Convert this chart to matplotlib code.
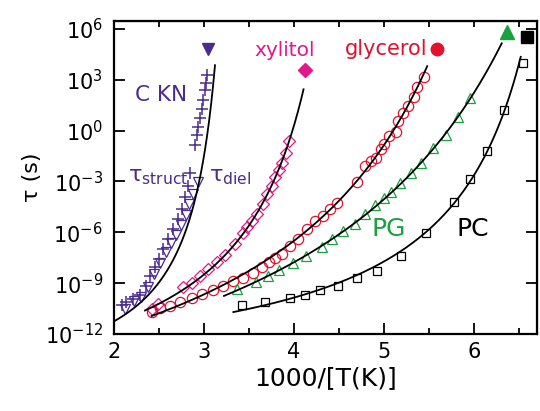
import numpy as np
import matplotlib
matplotlib.use("Agg")
import matplotlib.pyplot as plt
from matplotlib.ticker import FixedLocator, NullLocator, FuncFormatter

plt.rcParams['font.family'] = ['DejaVu Sans']
plt.rcParams['mathtext.default'] = 'regular'

# ---------------- data (x = 1000/T, y = log10 tau) ----------------
ckn_struct_x = [3.03, 3.022, 3.011, 2.994, 2.978, 2.956, 2.937, 2.919, 2.9, 2.844, 2.817, 2.789,
                2.756, 2.711, 2.656, 2.6, 2.55, 2.5, 2.456, 2.4, 2.356, 2.289, 2.211, 2.133, 2.089]
ckn_struct_y = [3.29, 2.82, 2.41, 1.82, 1.29, 0.76, 0.24, -0.24, -0.82, -2.47, -3.24, -3.94,
                -4.65, -5.24, -5.82, -6.41, -7.0, -7.59, -8.06, -8.59, -9.18, -9.71, -9.94, -10.12, -10.29]
ckn_diel_x = [2.933, 2.878, 2.833, 2.8, 2.744, 2.689, 2.633, 2.578, 2.511, 2.444, 2.378, 2.3, 2.222, 2.122]
ckn_diel_y = [-3.06, -3.76, -4.35, -5.0, -5.59, -6.18, -6.65, -7.18, -7.82, -8.47, -9.24, -9.82, -10.06, -10.53]

xyl_x = [2.419, 2.489, 2.767, 2.867, 2.956, 3.044, 3.141, 3.233, 3.344, 3.433, 3.478, 3.533,
         3.589, 3.656, 3.7, 3.75, 3.789, 3.828, 3.872, 3.911, 3.948]
xyl_y = [-10.53, -10.24, -9.24, -8.97, -8.59, -8.18, -7.76, -7.35, -6.71, -6.06, -5.71, -5.35,
         -4.94, -4.35, -3.76, -3.29, -2.76, -2.35, -1.88, -1.29, -0.63]

gly_x = [2.422, 2.511, 2.622, 2.733, 2.863, 2.983, 3.103, 3.214, 3.326, 3.437, 3.548, 3.644,
         3.722, 3.789, 3.863, 3.956, 4.044, 4.141, 4.233, 4.319, 4.4, 4.474, 4.697, 4.789,
         4.856, 4.911, 4.967, 5.0, 5.056, 5.13, 5.156, 5.211, 5.267, 5.328, 5.37, 5.441]
gly_y = [-10.71, -10.44, -10.35, -10.12, -9.88, -9.65, -9.41, -9.15, -8.88, -8.68, -8.38, -8.06,
         -7.76, -7.5, -7.29, -6.82, -6.41, -5.82, -5.35, -5.04, -4.65, -4.25, -3.03, -2.1,
         -1.81, -1.61, -1.06, -0.76, -0.32, -0.06, 0.59, 1.03, 1.44, 2.0, 2.57, 3.15]

pg_x = [3.372, 3.578, 3.706, 3.833, 3.992, 4.137, 4.308, 4.419, 4.539, 4.683, 4.789, 4.9,
        5.0, 5.078, 5.178, 5.298, 5.406, 5.544, 5.689, 5.822, 5.956]
pg_y = [-9.35, -8.91, -8.55, -8.22, -7.82, -7.39, -6.85, -6.38, -5.94, -5.5, -4.94, -4.41,
        -4.0, -3.65, -3.08, -2.47, -1.88, -1.0, -0.24, 0.79, 1.94]

pc_x = [3.419, 3.678, 3.956, 4.122, 4.292, 4.487, 4.698, 4.92, 5.189, 5.467, 5.781, 5.956,
        6.144, 6.337, 6.541]
pc_y = [-10.29, -10.09, -9.86, -9.71, -9.43, -9.16, -8.72, -8.28, -7.39, -6.02, -4.24, -2.88,
        -1.18, 1.24, 3.98]

# points
ckn_line_x = [1.992, 2.178, 2.363, 2.548, 2.697, 2.808, 2.9, 2.956, 3.011, 3.067, 3.122]
ckn_line_y = [-11.22, -10.53, -9.75, -8.76, -7.39, -5.82, -4.06, -2.69, -0.92, 1.04, 3.76]
xyl_line_x = [2.344, 3.992, 4.086, 4.106]
xyl_line_y = [-10.82, 0.5, 1.9, 2.5]
gly_line_x = [2.419, 3.3, 4.474, 4.808, 5.141, 5.4, 5.49]
gly_line_y = [-11.1, -8.95, -4.06, -1.9, 0.45, 2.61, 4.1]
pg_line_x = [3.222, 3.659, 4.03, 4.4, 4.77, 5.178, 5.548, 5.919, 6.141, 6.308]
pg_line_y = [-9.75, -8.66, -7.78, -6.61, -5.24, -3.08, -1.12, 1.43, 3.39, 5.25]
pc_line_x = [3.326, 3.956, 4.511, 4.844, 5.214, 5.474, 5.789, 5.956, 6.141, 6.337, 6.437, 6.519]
pc_line_y = [-10.53, -9.71, -8.96, -8.37, -7.19, -6.02, -4.16, -2.88, -1.12, 1.24, 3.0, 4.86]

# filled key symbols near labels
key_x = {'CKN': 3.041, 'xylitol': 4.117, 'glycerol': 5.592, 'PG': 6.37, 'PC': 6.584}
key_y = {'CKN': 4.81, 'xylitol': 3.59, 'glycerol': 4.82, 'PG': 5.84, 'PC': 5.55}

# x-extent of each fit curve
line_range = {'CKN': (1.992, 3.122), 'xylitol': (2.344, 4.106), 'glycerol': (2.419, 5.48),
              'PG': (3.222, 6.308), 'PC': (3.326, 6.519)}

ytick_exp = [-12, -9, -6, -3, 0, 3, 6]
xticks = [2, 3, 4, 5, 6]

colors = {'CKN': '#4a2b8e', 'xylitol': '#e4168c', 'glycerol': '#e2112f', 'PG': '#1aa13f', 'PC': 'black'}


def vft_fit(x, ly, xmax):
    T = 1000.0 / np.asarray(x, float)
    ly = np.asarray(ly, float)
    tmax = min(T.min(), 1000.0 / xmax) - 1.0
    best = None
    for T0 in np.linspace(0, tmax, 3000):
        M = np.column_stack([np.ones_like(T), 1.0 / (T - T0)])
        coef = np.linalg.lstsq(M, ly, rcond=None)[0]
        r = np.sum((M @ coef - ly) ** 2)
        if best is None or r < best[0]:
            best = (r, coef[0], coef[1], T0)
    return best[1:]


def curve(name, x, ly):
    x0, x1 = line_range[name]
    A, B, T0 = vft_fit(x, ly, x1)
    xs = np.linspace(x0, x1, 400)
    return xs, 10.0 ** (A + B / (1000.0 / xs - T0))


fig = plt.figure(figsize=(5.40, 4.11), dpi=100)
ax = fig.add_axes([114 / 540, 1 - 334 / 411, 423 / 540, 313 / 411])
ax.set_yscale('log')

p10 = lambda v: 10.0 ** np.asarray(v)
ms = 7.4
mew = 0.9
# data markers
ax.plot(ckn_struct_x, p10(ckn_struct_y), ls='none', marker='+', ms=9, mew=1.1, color=colors['CKN'])
ax.plot(ckn_diel_x, p10(ckn_diel_y), ls='none', marker='v', ms=ms, mew=mew, mfc='none', color=colors['CKN'])
ax.plot(xyl_x, p10(xyl_y), ls='none', marker='D', ms=6.4, mew=mew, mfc='none', color=colors['xylitol'])
ax.plot(gly_x, p10(gly_y), ls='none', marker='o', ms=ms, mew=mew, mfc='none', color=colors['glycerol'])
ax.plot(pg_x, p10(pg_y), ls='none', marker='^', ms=ms, mew=mew, mfc='none', color=colors['PG'])
ax.plot(pc_x, p10(pc_y), ls='none', marker='s', ms=6, mew=mew, mfc='none', color=colors['PC'])

# fit curves
fits = {'CKN': (ckn_line_x, ckn_line_y),
        'xylitol': (xyl_x + xyl_line_x, xyl_y + xyl_line_y),
        'glycerol': (gly_x + gly_line_x, gly_y + gly_line_y),
        'PG': (pg_x + pg_line_x, pg_y + pg_line_y),
        'PC': (pc_x + pc_line_x, pc_y + pc_line_y)}
for name, (x, ly) in fits.items():
    xs, ys = curve(name, x, ly)
    ax.plot(xs, ys, color='black', lw=1.3, zorder=3)

# filled key markers
key_marker = {'CKN': ('v', 9), 'xylitol': ('D', 7.5), 'glycerol': ('o', 9), 'PG': ('^', 10), 'PC': ('s', 8)}
for name, (m, s) in key_marker.items():
    ax.plot([key_x[name]], [10.0 ** key_y[name]], marker=m, ms=s, color=colors[name], ls='none')

# labels
ax.text(2.522, 10 ** 2.12, 'C KN', color=colors['CKN'], fontsize=15.5, ha='center', va='center')
ax.text(2.15, 10 ** -3.0, 'τ$_{struct}$', color=colors['CKN'], fontsize=16, ha='left', va='baseline')
ax.text(3.06, 10 ** -3.0, 'τ$_{diel}$', color=colors['CKN'], fontsize=16, ha='left', va='baseline')
ax.text(3.9, 10 ** 4.41, 'xylitol', color=colors['xylitol'], fontsize=14.5, ha='center', va='baseline')
ax.text(5.028, 10 ** 4.47, 'glycerol', color=colors['glycerol'], fontsize=15, ha='center', va='baseline')
ax.text(5.055, 10 ** -6.24, 'PG', color=colors['PG'], fontsize=18, ha='center', va='baseline')
ax.text(5.983, 10 ** -6.24, 'PC', color=colors['PC'], fontsize=18, ha='center', va='baseline')

# axes
ax.set_xlim(2, 6.7)
ax.set_ylim(1e-12, 10 ** 6.47)
ax.xaxis.set_major_locator(FixedLocator(xticks))
ax.xaxis.set_minor_locator(FixedLocator([2.5, 3.5, 4.5, 5.5, 6.5]))
ax.yaxis.set_major_locator(FixedLocator([10.0 ** e for e in ytick_exp]))
ax.yaxis.set_minor_locator(NullLocator())
ax.yaxis.set_major_formatter(FuncFormatter(lambda v, p: '$10^{%d}$' % round(np.log10(v))))
ax.xaxis.set_major_formatter(FuncFormatter(lambda v, p: '%d' % v))
ax.tick_params(axis='x', which='major', direction='in', length=8, width=1.3, labelsize=15, pad=6)
ax.tick_params(axis='x', which='minor', direction='in', length=4, width=1.3)
ax.tick_params(axis='y', which='major', direction='in', length=8, width=1.3, labelsize=15, pad=8)
for sp in ax.spines.values():
    sp.set_linewidth(1.6)

top = ax.secondary_xaxis('top')
top.xaxis.set_major_locator(FixedLocator([2, 2.5, 3, 3.5, 4, 4.5, 5, 5.5, 6, 6.5]))
top.tick_params(direction='in', length=4, width=1.3, labeltop=False)
right = ax.secondary_yaxis('right')
right.yaxis.set_major_locator(FixedLocator([10.0 ** e for e in ytick_exp]))
right.yaxis.set_minor_locator(NullLocator())
right.tick_params(direction='in', length=8, width=1.3, labelright=False)

ax.set_xlabel('1000/[T(K)]', fontsize=18, labelpad=3)
ax.set_ylabel('τ (s)', fontsize=16, labelpad=2)

fig.savefig('out.png', dpi=100)
